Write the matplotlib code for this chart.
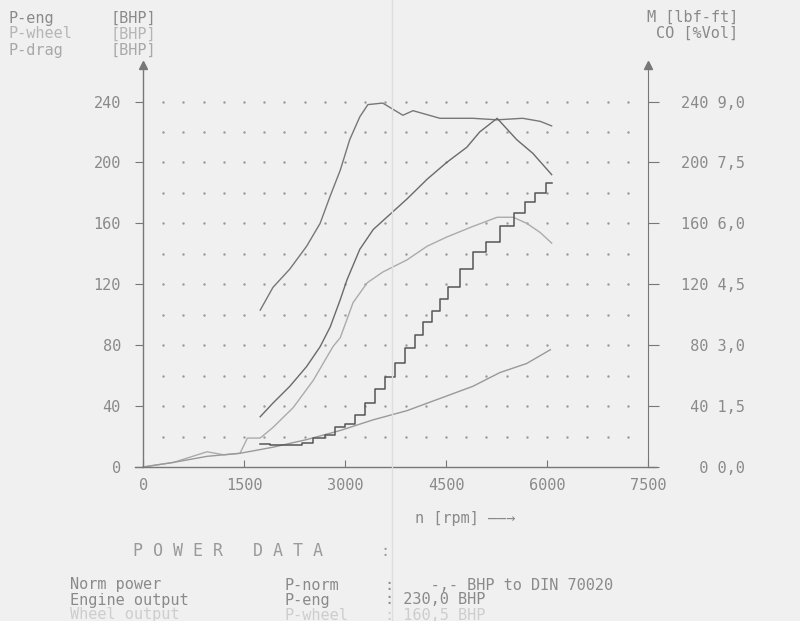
import numpy as np
import matplotlib.pyplot as plt

# dyno sheet: rpm / BHP values
rpm_torque = [1740, 1930, 2180, 2430, 2630, 2780, 2930, 3070, 3220, 3340, 3560, 3710, 3860, 4010, 4410, 4900, 5260, 5640, 5900, 6070]
torque = [103, 118, 130, 145, 160, 178, 195, 215, 230, 238, 239, 235, 231, 234, 229, 229, 228, 229, 227, 224]

rpm_eng = [1740, 1930, 2180, 2430, 2630, 2780, 2930, 3030, 3220, 3420, 3620, 3920, 4220, 4510, 4810, 5000, 5260, 5550, 5790, 6070]
p_eng = [33, 42, 53, 66, 79, 92, 110, 123, 143, 156, 164, 176, 189, 200, 210, 220, 229, 215, 206, 192]

rpm_wheel = [0, 450, 950, 1200, 1440, 1550, 1740, 1930, 2230, 2530, 2820, 2930, 3120, 3330, 3560, 3920, 4220, 4510, 4900, 5260, 5500, 5700, 5900, 6070]
p_wheel = [0, 3, 10, 8, 9, 19, 19, 26, 39, 57, 79, 85, 108, 121, 128, 136, 145, 151, 158, 164, 164, 160, 154, 147]

rpm_drag = [0, 450, 950, 1440, 1930, 2430, 2930, 3420, 3920, 4410, 4900, 5300, 5700, 6050]
p_drag = [0, 3, 7, 9, 13, 18, 24, 31, 37, 45, 53, 62, 68, 77]

rpm_co = [1740, 2040, 2290, 2430, 2630, 2780, 2930, 3070, 3220, 3370, 3520, 3670, 3820, 3960, 4110, 4220, 4370, 4460, 4600, 4810, 5000, 5200, 5410, 5600, 5750, 5900, 6070]
co = [0.56, 0.53, 0.53, 0.6, 0.71, 0.79, 0.98, 1.05, 1.28, 1.58, 1.91, 2.21, 2.55, 2.93, 3.26, 3.56, 3.83, 4.13, 4.43, 4.88, 5.29, 5.55, 5.93, 6.26, 6.53, 6.75, 7.0]

x_ticks = [0, 1500, 3000, 4500, 6000, 7500]
y_ticks = [0, 40, 80, 120, 160, 200, 240]
co_ticks = [0, 1.5, 3.0, 4.5, 6.0, 7.5, 9.0]

mono = 'DejaVu Sans Mono'
grey = '#8a8a8a'

fig = plt.figure(figsize=(8, 6.21), dpi=100)
fig.patch.set_facecolor('#f0f0f0')

W, H = 800, 621
def px(x, y):
    return x / W, 1 - y / H

# axes box in pixels: x from 135 to 656, y from 467 (0) up to 65
ax = fig.add_axes([135 / W, (H - 467) / H, 521 / W, 402 / H])
ax.set_facecolor('none')
ax.set_xlim(-120, 7620)
ax.set_ylim(0, 264)

for s in ['top', 'right']:
    ax.spines[s].set_visible(False)
ax.spines['left'].set_position(('data', 0))
for s in ['left', 'bottom']:
    ax.spines[s].set_color('#777777')
    ax.spines[s].set_linewidth(1)

ax.set_xticks(x_ticks)
ax.set_xticklabels([str(t) for t in x_ticks], fontfamily=mono, fontsize=11, color=grey)
ax.tick_params(axis='x', direction='in', length=5, color='#777777', pad=8)
ax.set_yticks(y_ticks)
ax.set_yticklabels([str(t) for t in y_ticks], fontfamily=mono, fontsize=11, color=grey)
ax.tick_params(axis='y', direction='out', length=6, color='#777777', pad=10)

# right axis: torque lbf-ft and CO %Vol
ax2 = ax.twinx()
ax2.set_ylim(0, 9.9)
for s in ['top', 'left', 'bottom']:
    ax2.spines[s].set_visible(False)
ax2.spines['right'].set_position(('data', 7500))
ax2.spines['right'].set_color('#777777')
ax2.set_yticks(co_ticks)
ax2.set_yticklabels(['%3d %s' % (m, ('%.1f' % c).replace('.', ',')) for m, c in zip(y_ticks, co_ticks)],
                    fontfamily=mono, fontsize=11, color=grey)
ax2.tick_params(axis='y', direction='out', length=8, color='#777777', pad=16)

# arrow heads on vertical axes
ax.plot([0, 7500], [264, 264], '^', color='#777777', markersize=6, clip_on=False)

# dot grid
gx, gy = np.meshgrid(np.arange(300, 7500, 300), np.arange(20, 260, 20))
ax.plot(gx.ravel(), gy.ravel(), '.', color='#9a9a9a', markersize=1.5)

ax.plot(rpm_torque, torque, color='#777777', lw=1)
ax.plot(rpm_eng, p_eng, color='#6a6a6a', lw=1)
ax.plot(rpm_wheel, p_wheel, color='#ababab', lw=1)
ax.plot(rpm_drag, p_drag, color='#999999', lw=1)
ax2.plot(rpm_co, co, color='#555555', lw=1.1, drawstyle='steps-mid')

# paper fold
fig.add_artist(plt.Line2D([392 / W, 392 / W], [0, 1], color='#dddddd', lw=1))

# header labels
kw = dict(fontfamily=mono, fontsize=11, va='center')
fig.text(*px(8, 18), 'P-eng', color=grey, **kw)
fig.text(*px(110, 18), '[BHP]', color=grey, **kw)
fig.text(*px(8, 34), 'P-wheel', color='#b5b5b5', **kw)
fig.text(*px(110, 34), '[BHP]', color='#b5b5b5', **kw)
fig.text(*px(8, 50), 'P-drag', color='#a8a8a8', **kw)
fig.text(*px(110, 50), '[BHP]', color='#a8a8a8', **kw)
fig.text(*px(738, 17), 'M [lbf-ft]', color=grey, ha='right', **kw)
fig.text(*px(738, 33), 'CO [%Vol]', color=grey, ha='right', **kw)

fig.text(*px(415, 518), 'n [rpm] \u2014\u2014\u2192', color=grey, **kw)

fig.text(*px(133, 551), 'P O W E R   D A T A', color='#9a9a9a', fontfamily=mono, fontsize=12, va='center')
fig.text(*px(380, 551), ':', color='#9a9a9a', **kw)

rows = [('Norm power', 'P-norm', ':    -,- BHP to DIN 70020', grey),
        ('Engine output', 'P-eng', ': 230,0 BHP', grey),
        ('Wheel output', 'P-wheel', ': 160,5 BHP', '#cdcdcd')]
for i, (a, b, c, col) in enumerate(rows):
    y = 585 + i * 15
    fig.text(*px(70, y), a, color=col, **kw)
    fig.text(*px(285, y), b, color=col, **kw)
    fig.text(*px(385, y), c, color=col, **kw)

fig.savefig('out.png', dpi=100, facecolor=fig.get_facecolor())
